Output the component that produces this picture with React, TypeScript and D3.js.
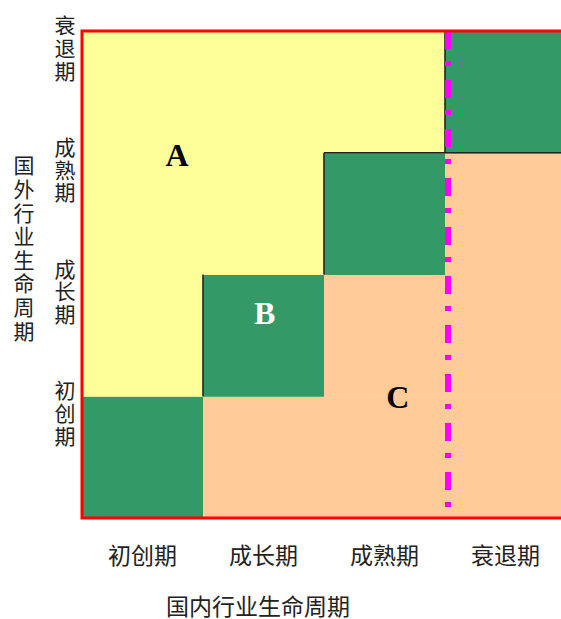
import React from "react";
import * as d3 from "d3";

// Lifecycle stages (domestic on x, foreign on y)
const stages = ["初创期", "成长期", "成熟期", "衰退期"];
const xTitle = "国内行业生命周期";
const yTitle = "国外行业生命周期";
// Region labels, anchored in stage units (0..4)
const regionLabels = ["A", "B", "C"];
const regionX = [0.785, 1.51, 2.61];
const regionY = [2.98, 1.68, 0.99];
const regionColors = ["#000000", "#ffffff", "#000000"];
// Marker line placed at the start of this domestic stage
const markerStage = "衰退期";

const W = 561;
const H = 619;
const left = 82, right = 566, top = 31, bottom = 518;

const COLORS = { A: "#FFFF99", same: "#339966", C: "#FFCC99" };

export default function App() {
  const x = d3.scaleBand<string>().domain(stages).range([left, right]).padding(0);
  const y = d3.scaleBand<string>().domain(stages).range([bottom, top]).padding(0);
  const xl = d3.scaleLinear().domain([0, 4]).range([left, right]);
  const yl = d3.scaleLinear().domain([0, 4]).range([bottom, top]);

  const cells = stages.flatMap((dx, i) =>
    stages.map((fy, j) => ({ dx, fy, kind: j > i ? "A" : j === i ? "same" : "C" }))
  );

  const font = "'Noto Sans CJK SC', sans-serif";
  const pitch = 22.8;

  const vertical = (text: string, cx: number, cy: number, size: number, p: number, key: string) => {
    const chars = Array.from(text);
    const start = cy - ((chars.length - 1) * p) / 2;
    return (
      <g key={key}>
        {chars.map((c, k) => (
          <text key={k} x={cx} y={start + k * p} textAnchor="middle" dominantBaseline="central"
            fontFamily={font} fontSize={size} fill="#222">{c}</text>
        ))}
      </g>
    );
  };

  // staircase black edges: left edge of each diagonal cell above the first
  const stairs = stages.slice(1).map((s) => ({ x: x(s)!, y1: y(s)!, y2: y(s)! + y.bandwidth() }));
  const stepTop = y(stages[2])!;

  const mx = x(markerStage)! + 3;

  return (
    <div style={{ position: "fixed", left: 0, top: 0 }}>
      <svg width={W} height={H} style={{ display: "block", background: "#fff" }}>
        {cells.map((c, k) => (
          <rect key={k} x={x(c.dx)} y={y(c.fy)} width={x.bandwidth() + 0.5} height={y.bandwidth() + 0.5}
            fill={(COLORS as any)[c.kind]} />
        ))}
        {stairs.map((s, k) => (
          <line key={k} x1={s.x} x2={s.x} y1={s.y1} y2={s.y2} stroke="#222" strokeWidth={1.6} />
        ))}
        <line x1={x(stages[2])} x2={right} y1={stepTop} y2={stepTop} stroke="#222" strokeWidth={1.6} />
        <line x1={mx} x2={mx} y1={top} y2={510} stroke="#FF00FF" strokeWidth={6}
          strokeDasharray="18 12 5 14" />
        <rect x={left} y={top} width={right - left} height={bottom - top} fill="none" stroke="#FF0000" strokeWidth={3} />
        {regionLabels.map((l, k) => (
          <text key={l} x={xl(regionX[k])} y={yl(regionY[k])} textAnchor="middle" dominantBaseline="central"
            fontFamily="'Liberation Serif', serif" fontWeight="bold" fontSize={32} fill={regionColors[k]}>{l}</text>
        ))}
        {stages.map((s) => vertical(s, 65, y(s)! + y.bandwidth() / 2 - 45, 21, pitch, "y" + s))}
        {vertical(yTitle, 24, 247, 21, 23.6, "ytitle")}
        {stages.map((s) => (
          <text key={"x" + s} x={x(s)! + x.bandwidth() / 2} y={554} textAnchor="middle" dominantBaseline="central"
            fontFamily={font} fontSize={23} fill="#222">{s}</text>
        ))}
        <text x={258} y={605} textAnchor="middle" dominantBaseline="central" fontFamily={font} fontSize={23} fill="#222">{xTitle}</text>
      </svg>
    </div>
  );
}
